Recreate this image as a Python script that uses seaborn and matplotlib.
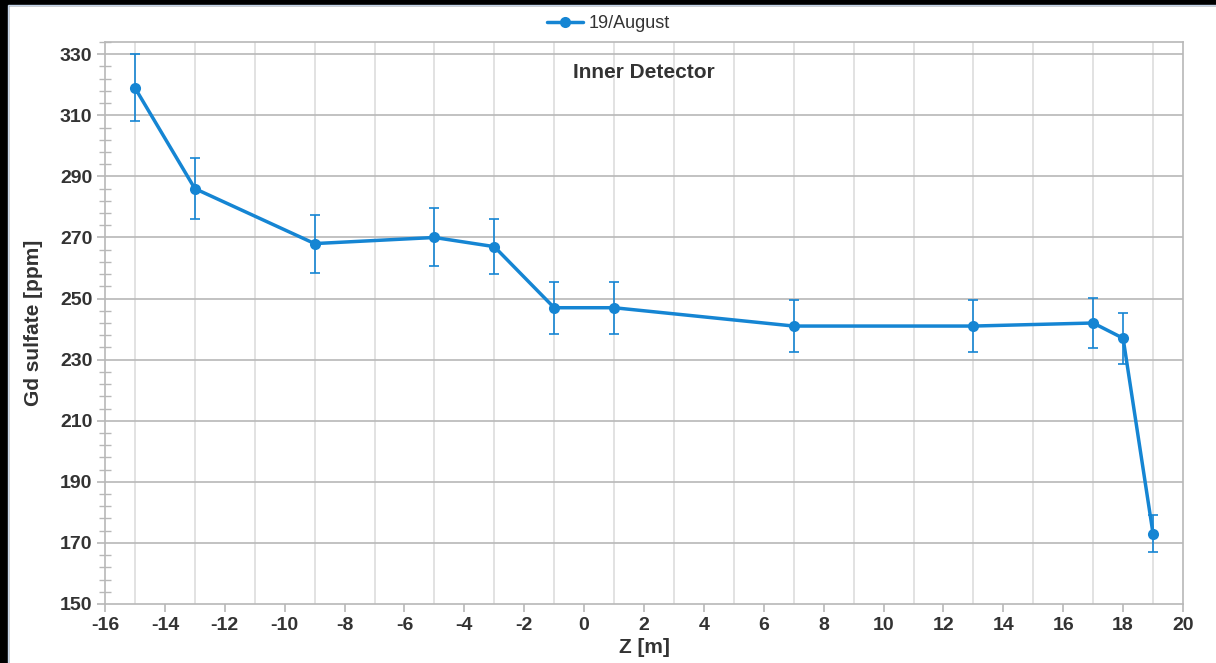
import matplotlib
matplotlib.use("Agg")
import matplotlib.pyplot as plt
from matplotlib.patches import Rectangle
from matplotlib.ticker import MultipleLocator, FixedLocator
import seaborn as sns
import pandas as pd

# data
z_m = [-15, -13, -9, -5, -3, -1, 1, 7, 13, 17, 18, 19]
gd_ppm = [319, 286, 268, 270, 267, 247, 247, 241, 241, 242, 237, 173]
gd_err = [11, 10, 9.5, 9.5, 9, 8.5, 8.5, 8.5, 8.5, 8.3, 8.3, 6]
series_name = "19/August"
y_major = list(range(150, 331, 20))
y_minor = [v for v in range(150, 335, 4) if (v - 150) % 20 != 0]

df = pd.DataFrame({"Z": z_m, "Gd": gd_ppm, "err": gd_err, "series": series_name})

sns.set_theme(style="white")
plt.rcParams["font.family"] = ["Liberation Sans", "DejaVu Sans"]
plt.rcParams["axes.unicode_minus"] = False

col = "#1585d3"
txt = "#333333"
grid_c = "#b8b8b8"

fig = plt.figure(figsize=(12.16, 6.63), dpi=100)
fig.patch.set_facecolor("white")
ax = fig.add_axes([105 / 1216, 1 - 604 / 663, (1183 - 105) / 1216, (604 - 42) / 663])

ax.errorbar(df["Z"], df["Gd"], yerr=df["err"], fmt="none", ecolor=col,
            elinewidth=1.2, capsize=3.5, capthick=1.2, zorder=3)
sns.lineplot(data=df, x="Z", y="Gd", hue="series", palette=[col], marker="o",
             markersize=8, markeredgewidth=0, linewidth=2.5, ax=ax, zorder=4,
             legend=True)

ax.set_xlim(-16, 20)
ax.set_ylim(150, 334)
ax.xaxis.set_major_locator(MultipleLocator(2))
ax.xaxis.set_minor_locator(MultipleLocator(1))
ax.yaxis.set_major_locator(FixedLocator(y_major))
ax.yaxis.set_minor_locator(FixedLocator(y_minor))

# gridlines: vertical at odd x values, horizontal at major y ticks
for xv in range(-15, 20, 2):
    ax.axvline(xv, color="#dddddd", lw=1.2, zorder=1)
for yv in y_major[1:]:
    ax.axhline(yv, color=grid_c, lw=1.2, zorder=1)

for s in ax.spines.values():
    s.set_color(grid_c)
    s.set_linewidth(1.2)

ax.tick_params(axis="both", which="major", direction="out", length=6, width=1.2,
               color=grid_c, labelsize=14, labelcolor=txt, pad=3)
ax.tick_params(axis="x", which="minor", length=0)
ax.tick_params(axis="y", which="minor", direction="inout", length=8, width=1.0, color=grid_c)
ax.tick_params(left=True, bottom=True, which="both")
for lab in ax.get_xticklabels() + ax.get_yticklabels():
    lab.set_fontweight("bold")

ax.set_xlabel("Z [m]", fontsize=15, fontweight="bold", color=txt, labelpad=3)
ax.set_ylabel("Gd sulfate [ppm]", fontsize=15, fontweight="bold", color=txt, labelpad=12)
ax.text(0.5, 0.945, "Inner Detector", transform=ax.transAxes, ha="center", va="center",
        fontsize=15, fontweight="bold", color=txt)

leg = ax.legend(loc="center", bbox_to_anchor=(0.5, (663 - 24) / 663),
                bbox_transform=fig.transFigure, frameon=False, fontsize=13,
                handlelength=2.0, handletextpad=0.3)
for t in leg.get_texts():
    t.set_color(txt)

# dark frame strips of the screenshot
fig.patches.append(Rectangle((0, 1 - 5 / 663), 1, 5 / 663, transform=fig.transFigure,
                             color="black", zorder=0))
fig.patches.append(Rectangle((0, 0), 8 / 1216, 1, transform=fig.transFigure,
                             color="black", zorder=0))
fig.patches.append(Rectangle((8 / 1216, -0.01), 1.0, 1 - 5 / 663 + 0.01, transform=fig.transFigure,
                             fill=False, edgecolor="#c5d5ea", lw=1.0, zorder=0))

fig.savefig("out.png", dpi=100, facecolor="white")
